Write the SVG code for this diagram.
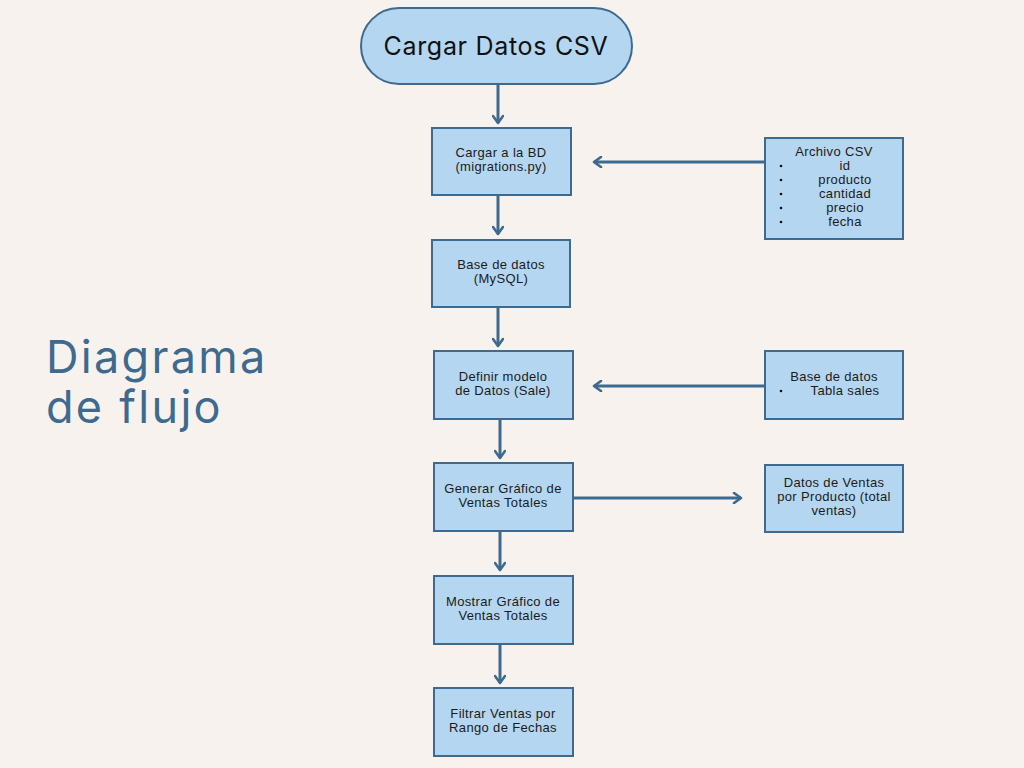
<svg xmlns="http://www.w3.org/2000/svg" width="1024" height="768" viewBox="0 0 1024 768">
<defs>
<style>
.box{fill:#b5d6f0;stroke:#3d6a8e;stroke-width:2}
.t{font-family:"Liberation Sans",Arial,sans-serif;font-size:13px;letter-spacing:0.35px;fill:#1b1b1b;text-anchor:middle}
.c{stroke:#3d6a8e;stroke-width:3;fill:none}
</style>
<marker id="ah" viewBox="0 0 12 12" refX="10" refY="6" markerWidth="12" markerHeight="12" markerUnits="userSpaceOnUse" orient="auto">
<path d="M3,1 L10,6 L3,11" fill="none" stroke="#3d6a8e" stroke-width="2.6" stroke-linecap="round" stroke-linejoin="round"/>
</marker>
</defs>
<rect width="1024" height="768" fill="#f7f2ee"/>
<g id="title">
<text x="46" y="373" font-family="Inter,'Noto Sans',sans-serif" font-size="45" letter-spacing="2.3" fill="#3d6a8e">Diagrama</text>
<text x="46" y="423" font-family="Inter,'Noto Sans',sans-serif" font-size="45" letter-spacing="2.3" fill="#3d6a8e">de flujo</text>
</g>
<g id="connectors">
<line class="c" x1="498" y1="84" x2="498" y2="123" marker-end="url(#ah)"/>
<line class="c" x1="498" y1="195" x2="498" y2="234" marker-end="url(#ah)"/>
<line class="c" x1="498" y1="307" x2="498" y2="346" marker-end="url(#ah)"/>
<line class="c" x1="500" y1="419" x2="500" y2="458" marker-end="url(#ah)"/>
<line class="c" x1="500" y1="531" x2="500" y2="570" marker-end="url(#ah)"/>
<line class="c" x1="500" y1="644" x2="500" y2="683" marker-end="url(#ah)"/>
<line class="c" x1="765" y1="162" x2="594" y2="162" marker-end="url(#ah)"/>
<line class="c" x1="765" y1="386" x2="594" y2="386" marker-end="url(#ah)"/>
<line class="c" x1="573" y1="498" x2="741" y2="498" marker-end="url(#ah)"/>
</g>
<g id="start">
<rect class="box" x="361" y="8" width="271" height="76" rx="38"/>
<text x="496" y="55" font-family="Inter,'Noto Sans',sans-serif" font-size="25" letter-spacing="0.7" fill="#111" text-anchor="middle">Cargar Datos CSV</text>
</g>
<g id="cargar-bd">
<rect class="box" x="432" y="128" width="139" height="67"/>
<text class="t" x="501" y="157">Cargar a la BD</text>
<text class="t" x="501" y="171">(migrations.py)</text>
</g>
<g id="base-datos">
<rect class="box" x="432" y="240" width="138" height="67"/>
<text class="t" x="501" y="269">Base de datos</text>
<text class="t" x="501" y="283">(MySQL)</text>
</g>
<g id="definir-modelo">
<rect class="box" x="434" y="351" width="139" height="68"/>
<text class="t" x="503" y="381">Definir modelo</text>
<text class="t" x="503" y="395">de Datos (Sale)</text>
</g>
<g id="generar-grafico">
<rect class="box" x="434" y="463" width="139" height="68"/>
<text class="t" x="503" y="493">Generar Gráfico de</text>
<text class="t" x="503" y="507">Ventas Totales</text>
</g>
<g id="mostrar-grafico">
<rect class="box" x="434" y="576" width="139" height="68"/>
<text class="t" x="503" y="606">Mostrar Gráfico de</text>
<text class="t" x="503" y="620">Ventas Totales</text>
</g>
<g id="filtrar-ventas">
<rect class="box" x="434" y="688" width="139" height="68"/>
<text class="t" x="503" y="718">Filtrar Ventas por</text>
<text class="t" x="503" y="732">Rango de Fechas</text>
</g>
<g id="archivo-csv">
<rect class="box" x="765" y="138" width="138" height="101"/>
<text class="t" x="834" y="156">Archivo CSV</text>
<text class="t" x="845" y="170">id</text>
<text class="t" x="845" y="184">producto</text>
<text class="t" x="845" y="198">cantidad</text>
<text class="t" x="845" y="212">precio</text>
<text class="t" x="845" y="226">fecha</text>
<g fill="#111">
<circle cx="781" cy="166" r="1.3"/>
<circle cx="781" cy="180" r="1.3"/>
<circle cx="781" cy="194" r="1.3"/>
<circle cx="781" cy="208" r="1.3"/>
<circle cx="781" cy="222" r="1.3"/>
</g>
</g>
<g id="tabla-sales">
<rect class="box" x="765" y="351" width="138" height="68"/>
<text class="t" x="834" y="381">Base de datos</text>
<text class="t" x="845" y="395">Tabla sales</text>
<circle cx="781" cy="391" r="1.3" fill="#111"/>
</g>
<g id="datos-ventas">
<rect class="box" x="765" y="465" width="138" height="67"/>
<text class="t" x="834" y="487">Datos de Ventas</text>
<text class="t" x="834" y="501">por Producto (total</text>
<text class="t" x="834" y="515">ventas)</text>
</g>
</svg>
